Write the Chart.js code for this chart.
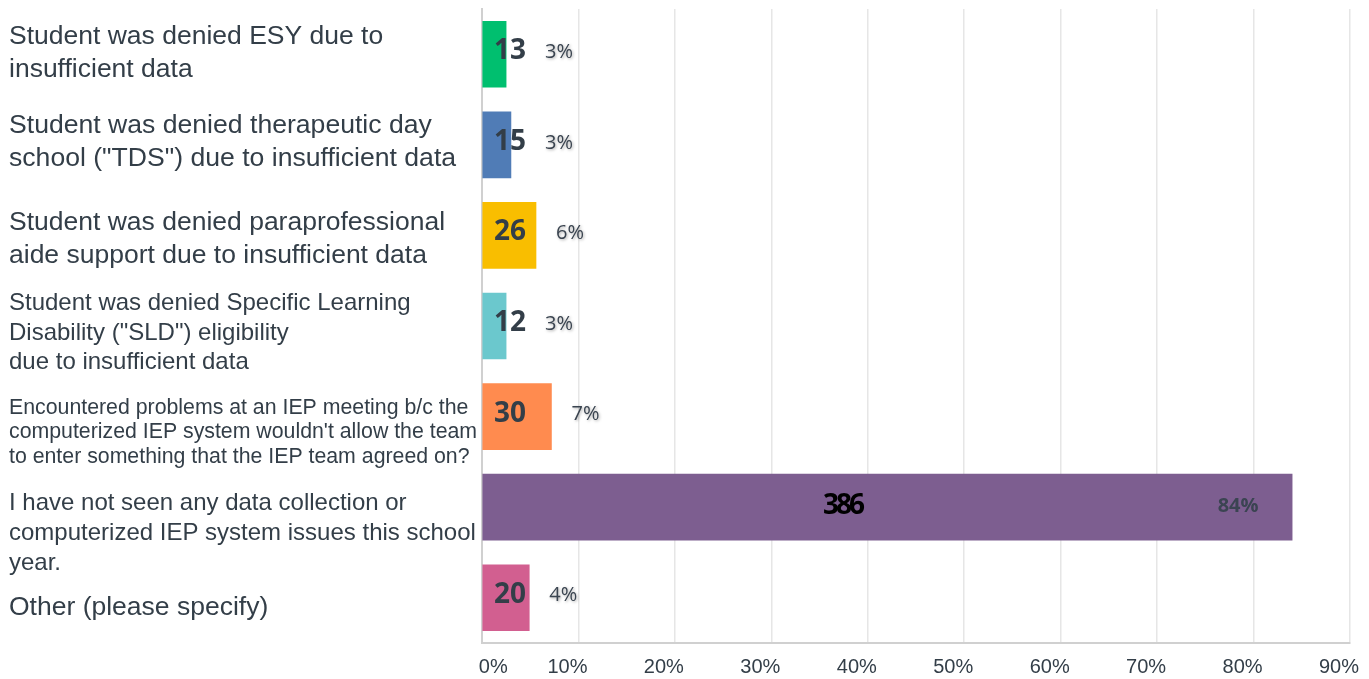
<!DOCTYPE html>
<html>
<head>
<meta charset="utf-8">
<script src="https://cdn.jsdelivr.net/npm/chart.js@4.4.1/dist/chart.umd.min.js"></script>
<style>
    html, body { margin: 0; padding: 0; background: #ffffff; }
    #wrap { width: 1369px; height: 679px; }
</style>
</head>
<body>
<div id="wrap"><canvas id="chart" width="1369" height="679"></canvas></div>
<script>
const categories = [
    ['Student was denied ESY due to', 'insufficient data'],
    ['Student was denied therapeutic day', 'school ("TDS") due to insufficient data'],
    ['Student was denied paraprofessional', 'aide support due to insufficient data'],
    ['Student was denied Specific Learning', 'Disability ("SLD") eligibility', 'due to insufficient data'],
    ['Encountered problems at an IEP meeting b/c the', 'computerized IEP system wouldn\'t allow the team', 'to enter something that the IEP team agreed on?'],
    ['I have not seen any data collection or', 'computerized IEP system issues this school', 'year.'],
    ['Other (please specify)']
];
const counts = [13, 15, 26, 12, 30, 386, 20];
const percents = [2.5, 3.0, 5.6, 2.5, 7.2, 84.0, 4.9];
const percentLabels = ['3%', '3%', '6%', '3%', '7%', '84%', '4%'];

const barColors = ['#00bf6f', '#507cb6', '#f9be00', '#6bc8cd', '#ff8b4f', '#7d5e90', '#d25f90'];
const textColor = '#333e48';

// per-label font size, line height and vertical nudge for the left-hand labels
const yFont = [26.5, 26.6, 26.5, 24, 21.3, 24, 26.5];
const yLine = [33, 33, 33, 29.5, 24.5, 30, 33];
const yShift = [-1, -3, 4, 7, 16, 26, 10];

const leftLabels = {
    id: 'leftLabels',
    afterDraw(chart) {
        const ctx = chart.ctx;
        const y = chart.scales.y;
        ctx.save();
        ctx.fillStyle = textColor;
        ctx.textAlign = 'left';
        ctx.textBaseline = 'middle';
        categories.forEach((lines, i) => {
            ctx.font = yFont[i] + 'px "Liberation Sans", Arial, sans-serif';
            const mid = y.getPixelForValue(i) + yShift[i];
            const top = mid - (lines.length - 1) * yLine[i] / 2;
            lines.forEach((line, k) => ctx.fillText(line, 9, top + k * yLine[i]));
        });
        ctx.restore();
    }
};

const barLabels = {
    id: 'barLabels',
    afterDatasetsDraw(chart) {
        const ctx = chart.ctx;
        const x = chart.scales.x;
        const meta = chart.getDatasetMeta(0);
        const x0 = x.getPixelForValue(0);
        ctx.save();
        ctx.textAlign = 'center';
        ctx.textBaseline = 'middle';
        meta.data.forEach((bar, i) => {
            const yc = bar.y;
            const end = bar.x;
            const big = percents[i] > 50;

            // response count
            ctx.font = 'bold 28px "Open Sans", sans-serif';
            if (big) {
                ctx.fillStyle = '#000000';
                ctx.letterSpacing = '-3px';
                ctx.fillText(String(counts[i]), x0 + (end - x0) * 0.445, yc - 1);
                ctx.letterSpacing = '0px';
            } else {
                ctx.fillStyle = textColor;
                ctx.fillText(String(counts[i]), x0 + 28, yc - 3);
            }

            // percentage
            if (big) {
                ctx.font = 'bold 20px "Open Sans", sans-serif';
                ctx.fillStyle = '#3b4452';
                ctx.fillText(percentLabels[i], end - 54, yc - 1);
            } else {
                ctx.shadowColor = 'rgba(0,0,0,0.35)';
                ctx.shadowBlur = 3;
                ctx.shadowOffsetX = 1;
                ctx.shadowOffsetY = 1;
                ctx.font = '20px "Open Sans", sans-serif';
                ctx.fillStyle = '#3a4450';
                ctx.fillText(percentLabels[i], Math.max(x0 + 77, end + 34), yc - 2);
                ctx.shadowColor = 'rgba(0,0,0,0)';
                ctx.shadowBlur = 0;
                ctx.shadowOffsetX = 0;
                ctx.shadowOffsetY = 0;
            }
        });
        ctx.restore();
    }
};

new Chart(document.getElementById('chart'), {
    type: 'bar',
    data: {
        labels: categories.map(c => c.join(' ')),
        datasets: [{
            data: percents,
            backgroundColor: barColors,
            borderWidth: 0,
            barThickness: 66
        }]
    },
    options: {
        indexAxis: 'y',
        responsive: false,
        animation: false,
        layout: { padding: { left: 9, top: 9, right: 19, bottom: 0 } },
        plugins: {
            legend: { display: false },
            tooltip: { enabled: false }
        },
        scales: {
            x: {
                min: 0,
                max: 90,
                grid: { color: '#e6e6e6', lineWidth: 1.5, drawTicks: false },
                border: { color: '#d0d0d0', width: 2 },
                ticks: {
                    stepSize: 10,
                    color: textColor,
                    font: { size: 20, family: '"Liberation Sans", Arial, sans-serif' },
                    padding: 12,
                    labelOffset: -11,
                    maxRotation: 0,
                    callback: v => v === 0 ? '        0%' : v + '%'
                },
                afterFit: s => {
                    s.height = 36;
                    s.paddingLeft = 0;
                    s.paddingRight = 0;
                }
            },
            y: {
                grid: { display: false },
                border: { color: '#d0d0d0', width: 2 },
                ticks: { display: false },
                afterFit: s => { s.width = 473; }
            }
        }
    },
    plugins: [leftLabels, barLabels]
});
</script>
</body>
</html>
